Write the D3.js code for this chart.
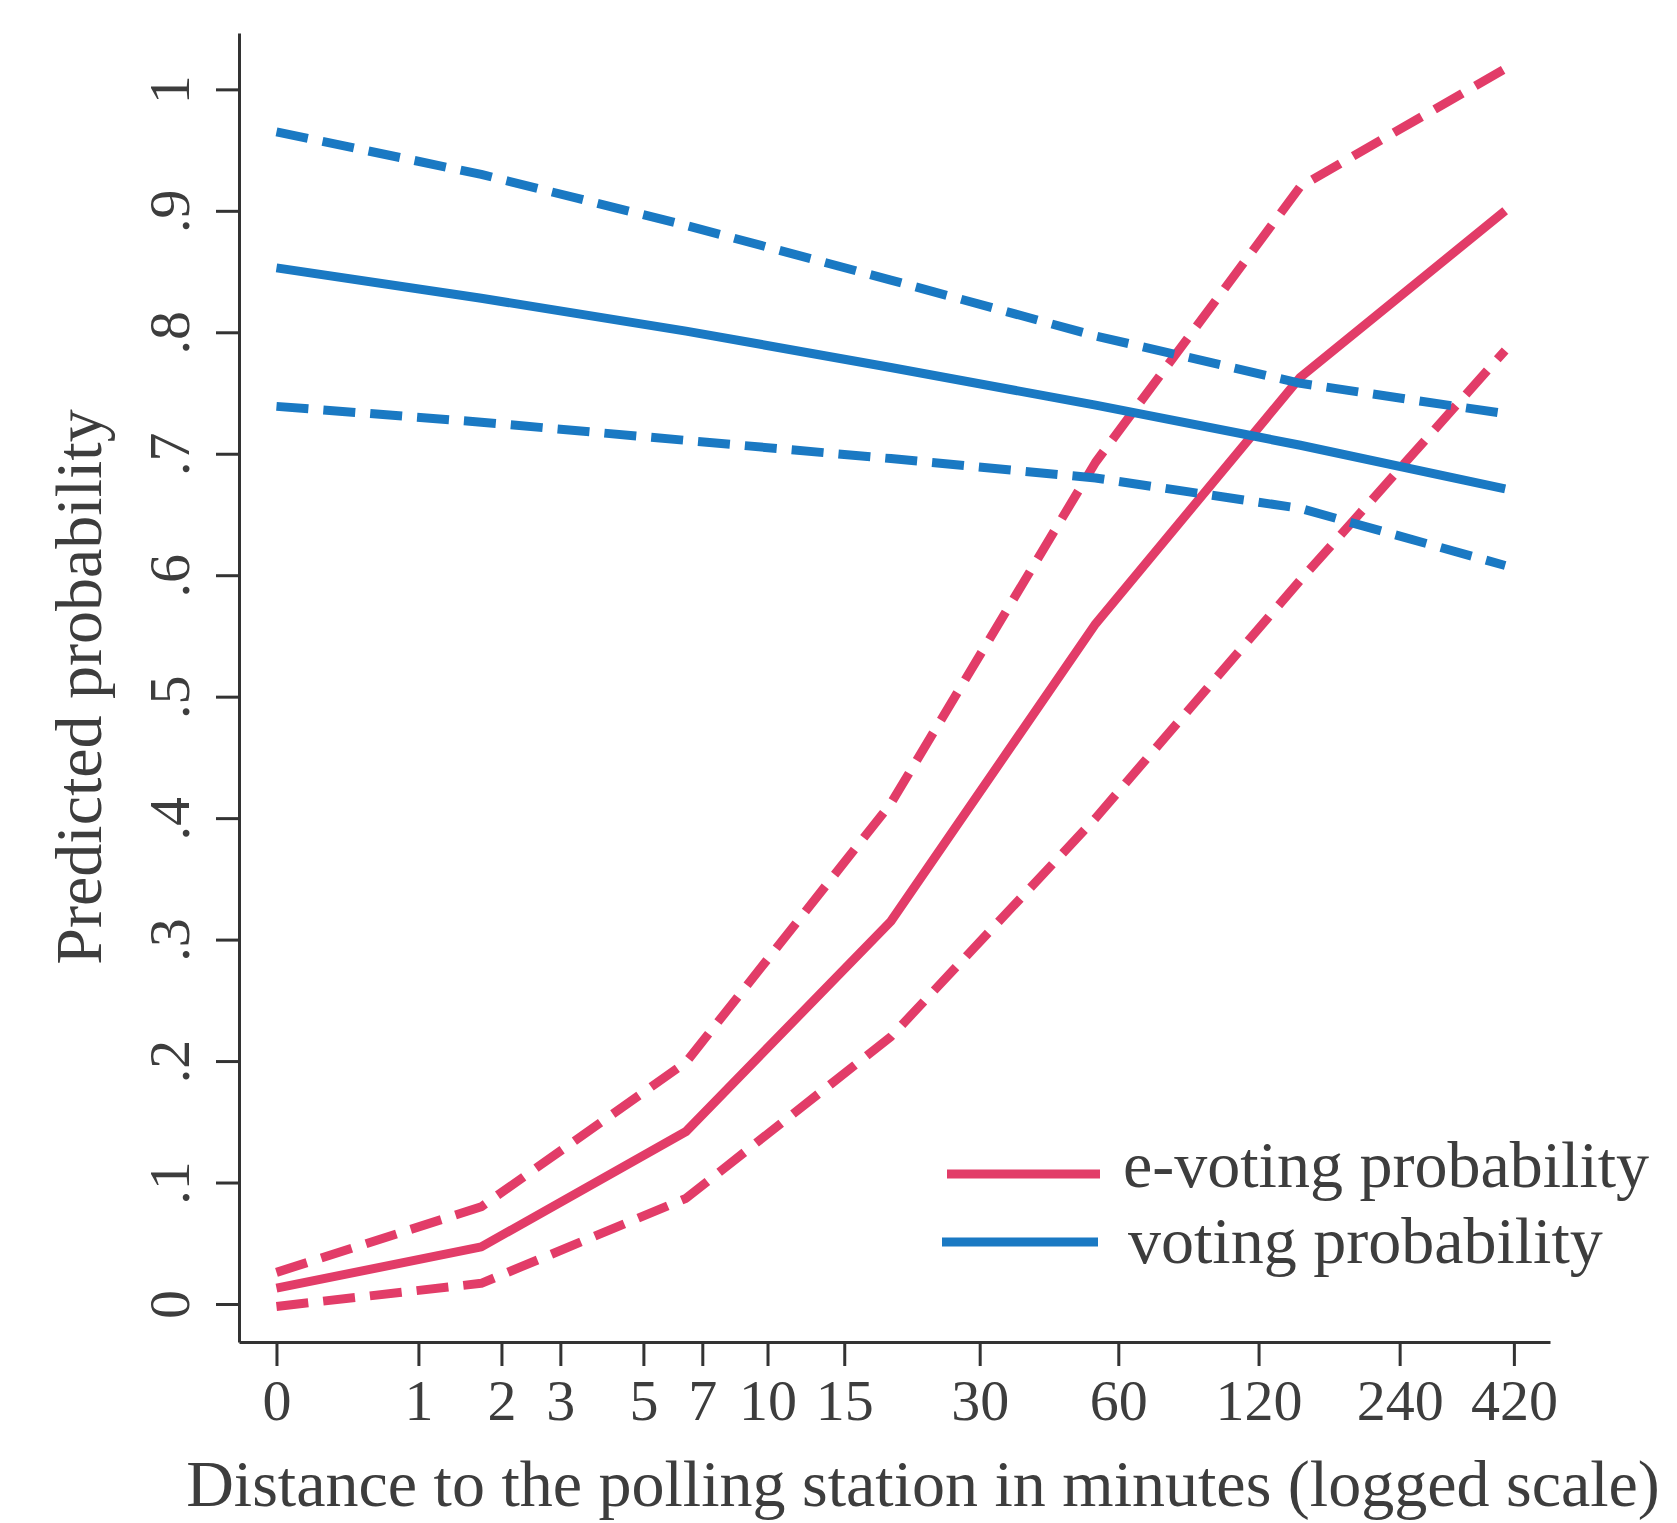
<!DOCTYPE html>
<html>
<head>
<meta charset="utf-8">
<script src="https://cdn.jsdelivr.net/npm/d3@7"></script>
<style>
  body { margin: 0; background: #fff; }
  text { font-family: "Liberation Serif", "DejaVu Serif", serif; fill: #3d3d3d; }
</style>
</head>
<body>
<svg id="chart" width="1677" height="1523"></svg>
<script>
// distance is plotted as ln(minutes + 1)
const logDist = [0, 1, 2, 3, 4, 5, 6];

const eVote   = [0.013, 0.047, 0.142, 0.315, 0.560, 0.763, 0.900];
const eVoteHi = [0.026, 0.080, 0.199, 0.412, 0.693, 0.920, 1.017];
const eVoteLo = [-0.002, 0.017, 0.087, 0.220, 0.400, 0.596, 0.785];

const vote   = [0.853, 0.828, 0.801, 0.771, 0.740, 0.707, 0.671];
const voteHi = [0.965, 0.930, 0.888, 0.843, 0.797, 0.758, 0.733];
const voteLo = [0.739, 0.726, 0.711, 0.696, 0.680, 0.655, 0.608];

const xTickMinutes = [0, 1, 2, 3, 5, 7, 10, 15, 30, 60, 120, 240, 420];
const yTicks = [0, 0.1, 0.2, 0.3, 0.4, 0.5, 0.6, 0.7, 0.8, 0.9, 1];
const yTickLabels = ["0", ".1", ".2", ".3", ".4", ".5", ".6", ".7", ".8", ".9", "1"];
const legendLabels = ["e-voting probability", "voting probability"];

const red = "#e23c68";
const blue = "#1a79c3";
const axisColor = "#333";

const svg = d3.select("#chart");

const x = d3.scaleLinear().domain([-0.183, 6.219]).range([239, 1550]);
const y = d3.scaleLinear().domain([-0.0313, 1.0464]).range([1342, 33]);

// y axis
const yAxis = svg.append("g")
    .attr("transform", "translate(239,0)")
    .call(d3.axisLeft(y)
        .tickValues(yTicks)
        .tickSize(23)
        .tickSizeOuter(0)
        .tickFormat((d, i) => yTickLabels[i]));

yAxis.selectAll(".tick text")
    .attr("transform", "rotate(-90)")
    .attr("x", 0)
    .attr("y", -50)
    .attr("dy", 0)
    .attr("text-anchor", "middle")
    .style("font-size", "58px");

// x axis
const xAxis = svg.append("g")
    .attr("transform", "translate(0,1342)")
    .call(d3.axisBottom(x)
        .tickValues(xTickMinutes.map(m => Math.log(m + 1)))
        .tickSize(24)
        .tickSizeOuter(0)
        .tickFormat((d, i) => xTickMinutes[i]));

xAxis.selectAll(".tick text")
    .attr("y", 78)
    .attr("dy", 0)
    .style("font-size", "58px");

svg.selectAll(".domain, .tick line")
    .attr("stroke", axisColor)
    .attr("stroke-width", 3);

// axis titles
svg.append("text")
    .attr("transform", "translate(101,687) rotate(-90)")
    .attr("text-anchor", "middle")
    .style("font-size", "66px")
    .text("Predicted probability");

svg.append("text")
    .attr("x", 923)
    .attr("y", 1506)
    .attr("text-anchor", "middle")
    .style("font-size", "66px")
    .text("Distance to the polling station in minutes (logged scale)");

// lines
const line = d3.line()
    .x((d, i) => x(logDist[i]))
    .y(d => y(d));

const series = [
    {vals: eVoteHi, color: red, dash: "32 15"},
    {vals: eVoteLo, color: red, dash: "32 15"},
    {vals: eVote, color: red, dash: null},
    {vals: voteHi, color: blue, dash: "32 15"},
    {vals: voteLo, color: blue, dash: "32 15"},
    {vals: vote, color: blue, dash: null}
];

svg.append("g").selectAll("path")
    .data(series)
    .enter()
    .append("path")
    .attr("d", d => line(d.vals))
    .attr("fill", "none")
    .attr("stroke", d => d.color)
    .attr("stroke-width", 9)
    .attr("stroke-linejoin", "round")
    .attr("stroke-dasharray", d => d.dash);

// legend
const legendRows = [
    {x1: 947, x2: 1100, ly: 1174, tx: 1123, ty: 1187, color: red},
    {x1: 942, x2: 1098, ly: 1242, tx: 1128, ty: 1263, color: blue}
];

const legend = svg.append("g");
legend.selectAll("line")
    .data(legendRows)
    .enter()
    .append("line")
    .attr("x1", d => d.x1)
    .attr("x2", d => d.x2)
    .attr("y1", d => d.ly)
    .attr("y2", d => d.ly)
    .attr("stroke", d => d.color)
    .attr("stroke-width", 9);

legend.selectAll("text")
    .data(legendRows)
    .enter()
    .append("text")
    .attr("x", d => d.tx)
    .attr("y", d => d.ty)
    .style("font-size", "66px")
    .text((d, i) => legendLabels[i]);
</script>
</body>
</html>
